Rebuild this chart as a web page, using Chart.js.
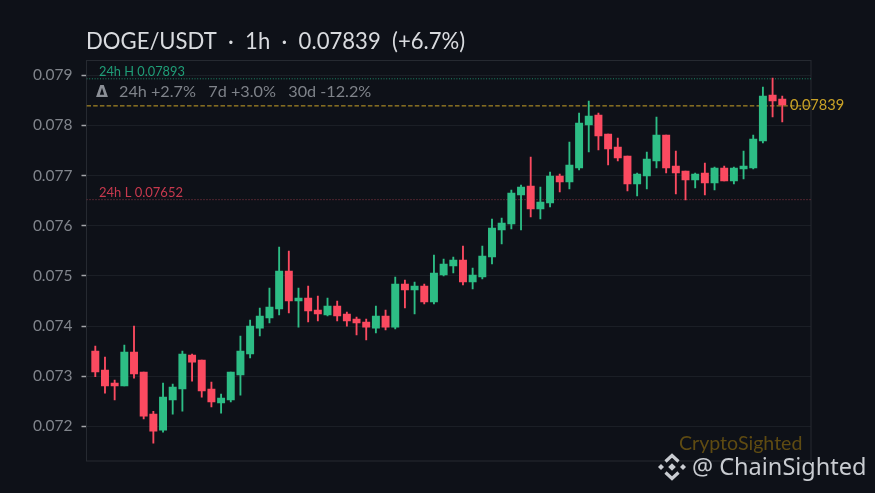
<!doctype html>
<html lang="en">
  <head>
    <title>DOGE/USDT 1h</title>
    <style>
      html, body { margin: 0; padding: 0; background: #0e1118; }
      canvas { display: block; }
    </style>
  </head>
  <body>
    <canvas id="myChart" width="875" height="493"></canvas>

    <script src="https://cdn.jsdelivr.net/npm/chart.js"></script>
    <script>
      const opens = [
        0.073502, 0.073123, 0.072864, 0.072804, 0.073482, 0.073083, 0.072245, 0.071926, 0.072525, 0.072744, 0.073422, 0.073322,
        0.072744, 0.072465, 0.072525, 0.073023, 0.073442, 0.073960, 0.074160, 0.074339, 0.075097, 0.074499, 0.074559, 0.074319,
        0.074220, 0.074399, 0.074240, 0.074140, 0.074080, 0.073960, 0.074200, 0.073980, 0.074838, 0.074718, 0.074798, 0.074479,
        0.075018, 0.075197, 0.075317, 0.074878, 0.074978, 0.075377, 0.075915, 0.076035, 0.076613, 0.076793, 0.076334, 0.076454,
        0.076992, 0.076872, 0.077151, 0.078009, 0.078209, 0.077830, 0.077570, 0.077391, 0.076832, 0.076992, 0.077291, 0.077810,
        0.077191, 0.077092, 0.076912, 0.077052, 0.076852, 0.077151, 0.076892, 0.077131, 0.077151, 0.077690, 0.078607, 0.078527
      ]
      const highs = [
        0.073601, 0.073382, 0.072923, 0.073621, 0.074000, 0.073083, 0.072298, 0.072864, 0.072844, 0.073502, 0.073442, 0.073322,
        0.072883, 0.072644, 0.073083, 0.073801, 0.074120, 0.074359, 0.074758, 0.075576, 0.075496, 0.074758, 0.074798, 0.074599,
        0.074559, 0.074499, 0.074280, 0.074180, 0.074140, 0.074399, 0.074319, 0.074978, 0.074918, 0.074878, 0.074838, 0.075416,
        0.075337, 0.075377, 0.075596, 0.075157, 0.075596, 0.076134, 0.076154, 0.076713, 0.076813, 0.077371, 0.076773, 0.077072,
        0.077032, 0.077670, 0.078248, 0.078488, 0.078248, 0.077830, 0.077750, 0.077391, 0.077052, 0.077471, 0.078169, 0.077810,
        0.077491, 0.077092, 0.077052, 0.077251, 0.077171, 0.077191, 0.077171, 0.077490, 0.077809, 0.078767, 0.078946, 0.078587
      ]
      const lows = [
        0.072990, 0.072664, 0.072525, 0.072804, 0.072963, 0.072146, 0.071667, 0.071886, 0.072245, 0.072305, 0.072903, 0.072584,
        0.072385, 0.072265, 0.072485, 0.072624, 0.073362, 0.073801, 0.074060, 0.074220, 0.074260, 0.073980, 0.074080, 0.074100,
        0.074200, 0.074100, 0.074000, 0.073821, 0.073721, 0.073861, 0.073921, 0.073941, 0.074359, 0.074240, 0.074439, 0.074439,
        0.074998, 0.075057, 0.074818, 0.074738, 0.074938, 0.075237, 0.075636, 0.075935, 0.075915, 0.076174, 0.076134, 0.076374,
        0.076673, 0.076733, 0.077112, 0.077471, 0.077510, 0.077211, 0.077291, 0.076693, 0.076593, 0.076733, 0.077151, 0.077052,
        0.076633, 0.076513, 0.076753, 0.076613, 0.076713, 0.076892, 0.076832, 0.076932, 0.077131, 0.077650, 0.078168, 0.078068
      ]
      const closes = [
        0.073083, 0.072804, 0.072804, 0.073482, 0.073043, 0.072205, 0.071906, 0.072584, 0.072784, 0.073442, 0.073282, 0.072704,
        0.072485, 0.072564, 0.073083, 0.073502, 0.074000, 0.074200, 0.074379, 0.075097, 0.074499, 0.074559, 0.074300, 0.074240,
        0.074399, 0.074200, 0.074100, 0.074060, 0.073980, 0.074200, 0.073980, 0.074838, 0.074718, 0.074798, 0.074479, 0.075057,
        0.075237, 0.075317, 0.074878, 0.075018, 0.075397, 0.075955, 0.076055, 0.076653, 0.076773, 0.076334, 0.076473, 0.076992,
        0.076872, 0.077211, 0.078049, 0.078189, 0.077790, 0.077530, 0.077351, 0.076832, 0.077032, 0.077331, 0.077810, 0.077151,
        0.077052, 0.076912, 0.077032, 0.076852, 0.077151, 0.076892, 0.077151, 0.077191, 0.077729, 0.078587, 0.078487, 0.078408
      ]
      const yTicks = [0.072, 0.073, 0.074, 0.075, 0.076, 0.077, 0.078, 0.079]
      const high24h = 0.07893
      const low24h = 0.07652
      const lastPrice = 0.07839

      const green = '#2dbd85'
      const red = '#fb4a60'
      const xMin = -0.91
      const xMax = 73.97
      const candleColors = closes.map((c, i) => c >= opens[i] ? green : red)

      function levelLine(value, color, dash) {
        return {
          type: 'line',
          data: [{ x: xMin, y: value }, { x: xMax, y: value }],
          borderColor: color,
          borderWidth: 1,
          borderDash: dash,
          pointRadius: 0,
          order: 3
        }
      }

      // texts and the logo, they sit around the plot so they are drawn by hand
      const textsPlugin = {
        id: 'texts',
        afterDraw(chart) {
          const ctx = chart.ctx
          const put = (txt, x, y, font, color) => {
            ctx.font = font
            ctx.fillStyle = color
            ctx.textAlign = 'left'
            ctx.textBaseline = 'alphabetic'
            ctx.fillText(txt, x, y)
          }
          put('DOGE/USDT  ·  1h  ·  0.07839  (+6.7%)', 86, 49, '22.1px Lato', '#d9dbdf')
          put('24h H 0.07893', 99, 76, '12.8px Lato', '#1f9f78')
          put('Δ', 96, 97, 'bold 15.5px "DejaVu Sans"', '#8b8f96')
          put('24h +2.7%   7d +3.0%   30d -12.2%', 119, 97, '16.2px Lato', '#7f838a')
          put('24h L 0.07652', 99, 197, '13px Lato', '#c8394e')
          put('0.07839', 790, 110, '14.6px Lato', '#c9a227')
          put('CryptoSighted', 679, 450, '19.6px Lato', '#5f4b12')
          put('@ ChainSighted', 692, 475, '23.5px "Noto Sans"', '#c9ccd1')

          // small exchange mark next to the handle
          ctx.fillStyle = '#c9ccd1'
          const diamond = (cx, cy, r) => {
            ctx.beginPath()
            ctx.moveTo(cx, cy - r)
            ctx.lineTo(cx + r, cy)
            ctx.lineTo(cx, cy + r)
            ctx.lineTo(cx - r, cy)
            ctx.closePath()
            ctx.fill()
          }
          diamond(672, 467, 3.8)
          diamond(661, 467, 3)
          diamond(683, 467, 3)
          ctx.strokeStyle = '#c9ccd1'
          ctx.lineWidth = 3.2
          ctx.beginPath()
          ctx.moveTo(665.5, 461.5); ctx.lineTo(672, 455.5); ctx.lineTo(678.5, 461.5)
          ctx.moveTo(665.5, 472.5); ctx.lineTo(672, 478.5); ctx.lineTo(678.5, 472.5)
          ctx.stroke()
        }
      }

      const framePlugin = {
        id: 'frame',
        beforeDatasetsDraw(chart) {
          const a = chart.chartArea
          chart.ctx.save()
          chart.ctx.strokeStyle = '#262a31'
          chart.ctx.lineWidth = 1
          chart.ctx.strokeRect(a.left, a.top, a.right - a.left, a.bottom - a.top)
          chart.ctx.restore()
        }
      }

      const config = {
        data: {
          datasets: [
            levelLine(high24h, '#1d8a68', [1, 1.7]),
            levelLine(lastPrice, '#c9a227', [4.5, 2.2]),
            levelLine(low24h, '#8f3a48', [1, 2]),
            {
              type: 'bar',
              data: closes.map((c, i) => ({ x: i, y: [lows[i], highs[i]] })),
              backgroundColor: candleColors,
              barThickness: 1.2,
              grouped: false,
              order: 2
            },
            {
              type: 'bar',
              data: closes.map((c, i) => ({ x: i, y: [opens[i], c] })),
              backgroundColor: candleColors,
              barThickness: 7.3,
              grouped: false,
              order: 1
            }
          ]
        },
        options: {
          responsive: false,
          animation: false,
          layout: { padding: { left: 0, right: 64, top: 60.5, bottom: 32 } },
          plugins: { legend: { display: false }, tooltip: { enabled: false } },
          scales: {
            x: {
              type: 'linear',
              min: xMin,
              max: xMax,
              offset: false,
              afterFit: s => { s.height = 0 },
              grid: { display: false },
              border: { display: false },
              ticks: { display: false }
            },
            y: {
              min: 0.071309,
              max: 0.079295,
              afterBuildTicks: s => { s.ticks = yTicks.map(value => ({ value })) },
              afterFit: s => { s.width = 86.5 },
              grid: { color: '#1b1f26', tickColor: '#a3a5a8', tickLength: 5, tickWidth: 1.5 },
              border: { display: false },
              ticks: {
                padding: 9,
                color: '#81858c',
                font: { family: 'Lato', size: 15.5 },
                callback: v => v.toFixed(3)
              }
            }
          }
        },
        plugins: [framePlugin, textsPlugin]
      }

      var myChart = new Chart(document.getElementById('myChart'), config)
    </script>
  </body>
</html>
